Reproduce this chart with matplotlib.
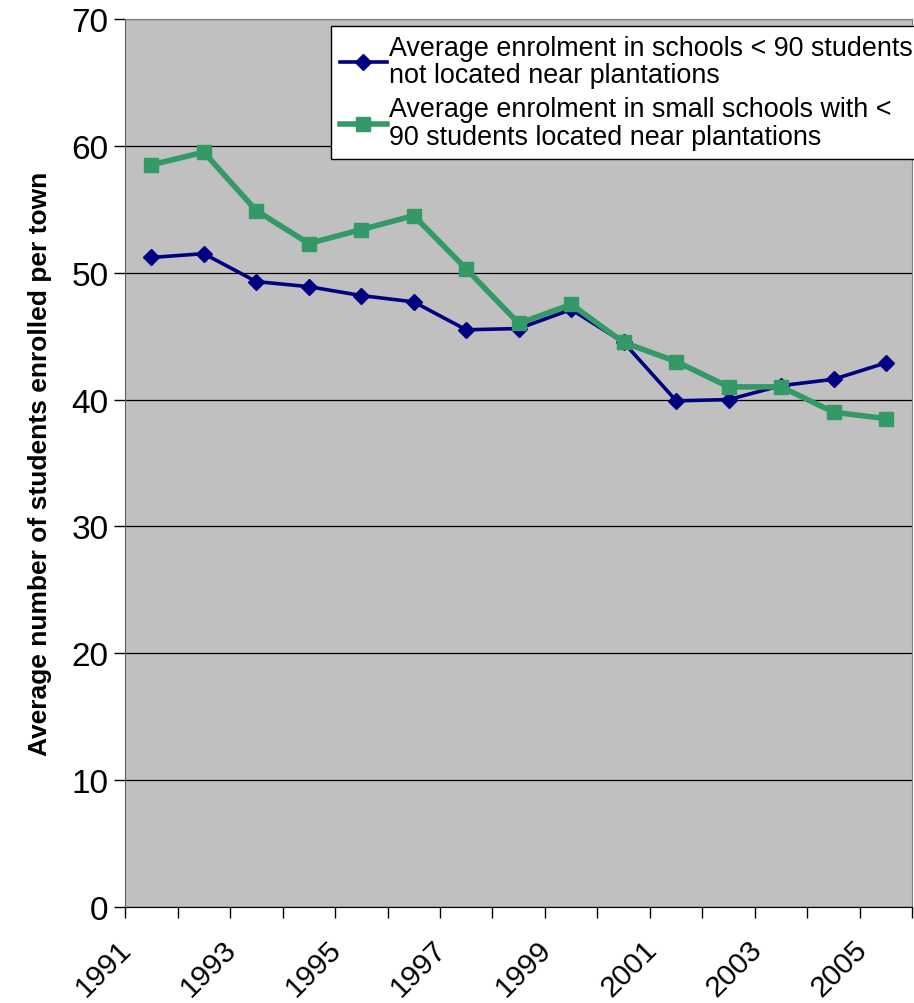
import matplotlib
matplotlib.use("Agg")
import matplotlib.pyplot as plt
import matplotlib.transforms as mtransforms
from matplotlib.ticker import MultipleLocator

# Enrolment data, one value per year
years = [1991, 1992, 1993, 1994, 1995, 1996, 1997, 1998,
         1999, 2000, 2001, 2002, 2003, 2004, 2005]
not_near = [51.2, 51.5, 49.3, 48.9, 48.2, 47.7, 45.5, 45.6,
            47.1, 44.5, 39.9, 40.0, 41.1, 41.6, 42.9]
near = [58.5, 59.5, 54.9, 52.3, 53.4, 54.5, 50.3, 46.0,
        47.5, 44.5, 43.0, 41.0, 41.0, 39.0, 38.5]

label_not_near = "Average enrolment in schools < 90 students\nnot located near plantations"
label_near = "Average enrolment in small schools with <\n90 students located near plantations"
y_label = "Average number of students enrolled per town"

plt.rcParams["font.family"] = ["Liberation Sans", "DejaVu Sans"]

fig = plt.figure(figsize=(9.14, 10.04), dpi=100)
ax = fig.add_axes([0.1368, 0.0956, 0.8615, 0.8845])
ax.set_facecolor("#C0C0C0")

x = list(range(len(years)))
ax.plot(x, not_near, color="#000080", lw=2.6, marker="D", ms=8.5,
        label=label_not_near, zorder=3)
ax.plot(x, near, color="#339966", lw=4.0, marker="s", ms=10,
        label=label_near, zorder=4)

ax.set_xlim(-0.5, len(years) - 0.5)
ax.set_ylim(0, 70)
ax.yaxis.set_major_locator(MultipleLocator(10))
ax.grid(axis="y", color="black", lw=0.9)
ax.set_axisbelow(True)

# category labels on every other year, boundary ticks between categories
ax.set_xticks(x)
ax.set_xticklabels([str(y) if i % 2 == 0 else "" for i, y in enumerate(years)],
                   rotation=45, ha="right", va="center", rotation_mode="anchor",
                   fontsize=21.5)
ax.tick_params(axis="x", which="major", length=0, pad=27)
shift = mtransforms.ScaledTranslation(-0.24, 0, fig.dpi_scale_trans)
for lbl in ax.get_xticklabels():
    lbl.set_transform(lbl.get_transform() + shift)
ax.set_xticks([i - 0.5 for i in range(len(years) + 1)], minor=True)
ax.tick_params(axis="x", which="minor", length=8, width=1, direction="out")

ax.tick_params(axis="y", length=8, width=1, direction="out", labelsize=24, pad=4)

for s in ("top", "right"):
    ax.spines[s].set_color("#808080")
ax.spines["left"].set_color("#606060")
ax.spines["bottom"].set_color("black")

ax.set_ylabel(y_label, fontsize=19, fontweight="bold",
              family=["Liberation Sans Narrow", "Liberation Sans", "DejaVu Sans"],
              labelpad=14)

leg = ax.legend(loc="upper left", bbox_to_anchor=(0.2616, 0.992),
                borderaxespad=0, fontsize=19.4, frameon=True, fancybox=False,
                edgecolor="black", facecolor="white", framealpha=1,
                handlelength=1.75, handletextpad=0.1, labelspacing=0.3,
                borderpad=0.32)
leg.get_frame().set_linewidth(1.0)
for t in leg.get_texts():
    t.set_linespacing(1.08)

fig.savefig("out.png", dpi=100)
